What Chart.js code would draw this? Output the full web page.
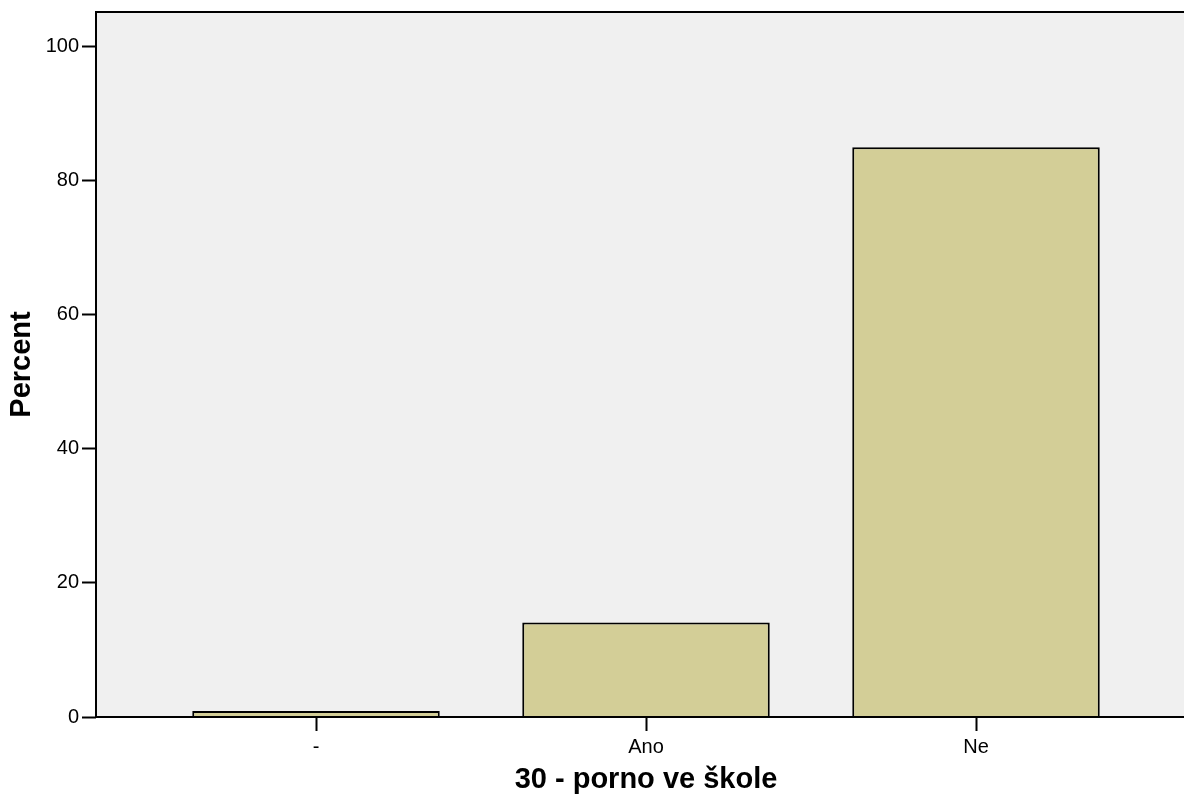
<!DOCTYPE html>
<html>
<head>
<meta charset="utf-8">
<script src="https://cdn.jsdelivr.net/npm/chart.js@4"></script>
<style>
  html, body { margin: 0; padding: 0; background: #fff; overflow: hidden; }
  #wrap { width: 1200px; height: 797px; }
</style>
</head>
<body>
<div id="wrap"><canvas id="chart"></canvas></div>
<script>
const categories = ["-", "Ano", "Ne"];
const percentValues = [0.9, 14.1, 85.0];
const yTicks = [0, 20, 40, 60, 80, 100];

const plotBox = {
    id: "plotBox",
    beforeDraw(chart) {
        const a = chart.chartArea;
        const ctx = chart.ctx;
        ctx.save();
        ctx.fillStyle = "#f0f0f0";
        ctx.fillRect(a.left, a.top, a.right - a.left, a.bottom - a.top);
        ctx.restore();
    },
    afterDraw(chart) {
        const a = chart.chartArea;
        const ctx = chart.ctx;
        ctx.save();
        ctx.strokeStyle = "#000";
        ctx.lineWidth = 2;
        ctx.strokeRect(a.left, a.top, a.right - a.left, a.bottom - a.top);
        ctx.restore();
    }
};

let ctx = document.getElementById("chart").getContext("2d");
let chart = new Chart(ctx, {
    type: "bar",
    data: {
        datasets: [{
            label: "Percent",
            data: categories.map((c, i) => ({ x: i, y: percentValues[i] })),
            backgroundColor: "#d3ce97",
            borderColor: "#000",
            borderWidth: 2,
            barPercentage: 0.75,
            categoryPercentage: 1
        }]
    },
    options: {
        responsive: true,
        maintainAspectRatio: false,
        animation: false,
        layout: { padding: { top: 12, right: 4, left: 0, bottom: 0 } },
        plugins: {
            legend: { display: false },
            tooltip: { enabled: false }
        },
        scales: {
            x: {
                type: "linear",
                offset: false,
                min: -2 / 3,
                max: 8 / 3,
                afterBuildTicks: (scale) => { scale.ticks = categories.map((c, i) => ({ value: i })); },
                afterFit: (scale) => { scale.height = 80; },
                grid: { offset: false, drawOnChartArea: false, tickLength: 14, tickColor: "#000", tickWidth: 2 },
                border: { display: false },
                ticks: {
                    padding: 4,
                    color: "#000",
                    font: { family: "Arial, 'Liberation Sans'", size: 20 },
                    maxRotation: 0,
                    callback: (v) => categories[v]
                },
                title: {
                    display: true,
                    text: "30 - porno ve škole",
                    color: "#000",
                    font: { family: "Arial, 'Liberation Sans'", size: 29, weight: "bold" },
                    padding: { top: 0, bottom: 0 }
                }
            },
            y: {
                min: 0,
                max: 105.2,
                afterBuildTicks: (scale) => { scale.ticks = yTicks.map(v => ({ value: v })); },
                afterFit: (scale) => {
                    scale.width = 96;
                    scale.paddingTop = 0;
                    scale.paddingBottom = 0;
                },
                grid: { drawOnChartArea: false, tickLength: 14, tickColor: "#000", tickWidth: 2 },
                border: { display: false },
                ticks: {
                    padding: 3,
                    color: "#000",
                    font: { family: "Arial, 'Liberation Sans'", size: 20 }
                },
                title: {
                    display: true,
                    text: "Percent",
                    color: "#000",
                    font: { family: "Arial, 'Liberation Sans'", size: 29, weight: "bold" },
                    padding: { top: 5, bottom: 0 }
                }
            }
        }
    },
    plugins: [plotBox]
});
</script>
</body>
</html>
